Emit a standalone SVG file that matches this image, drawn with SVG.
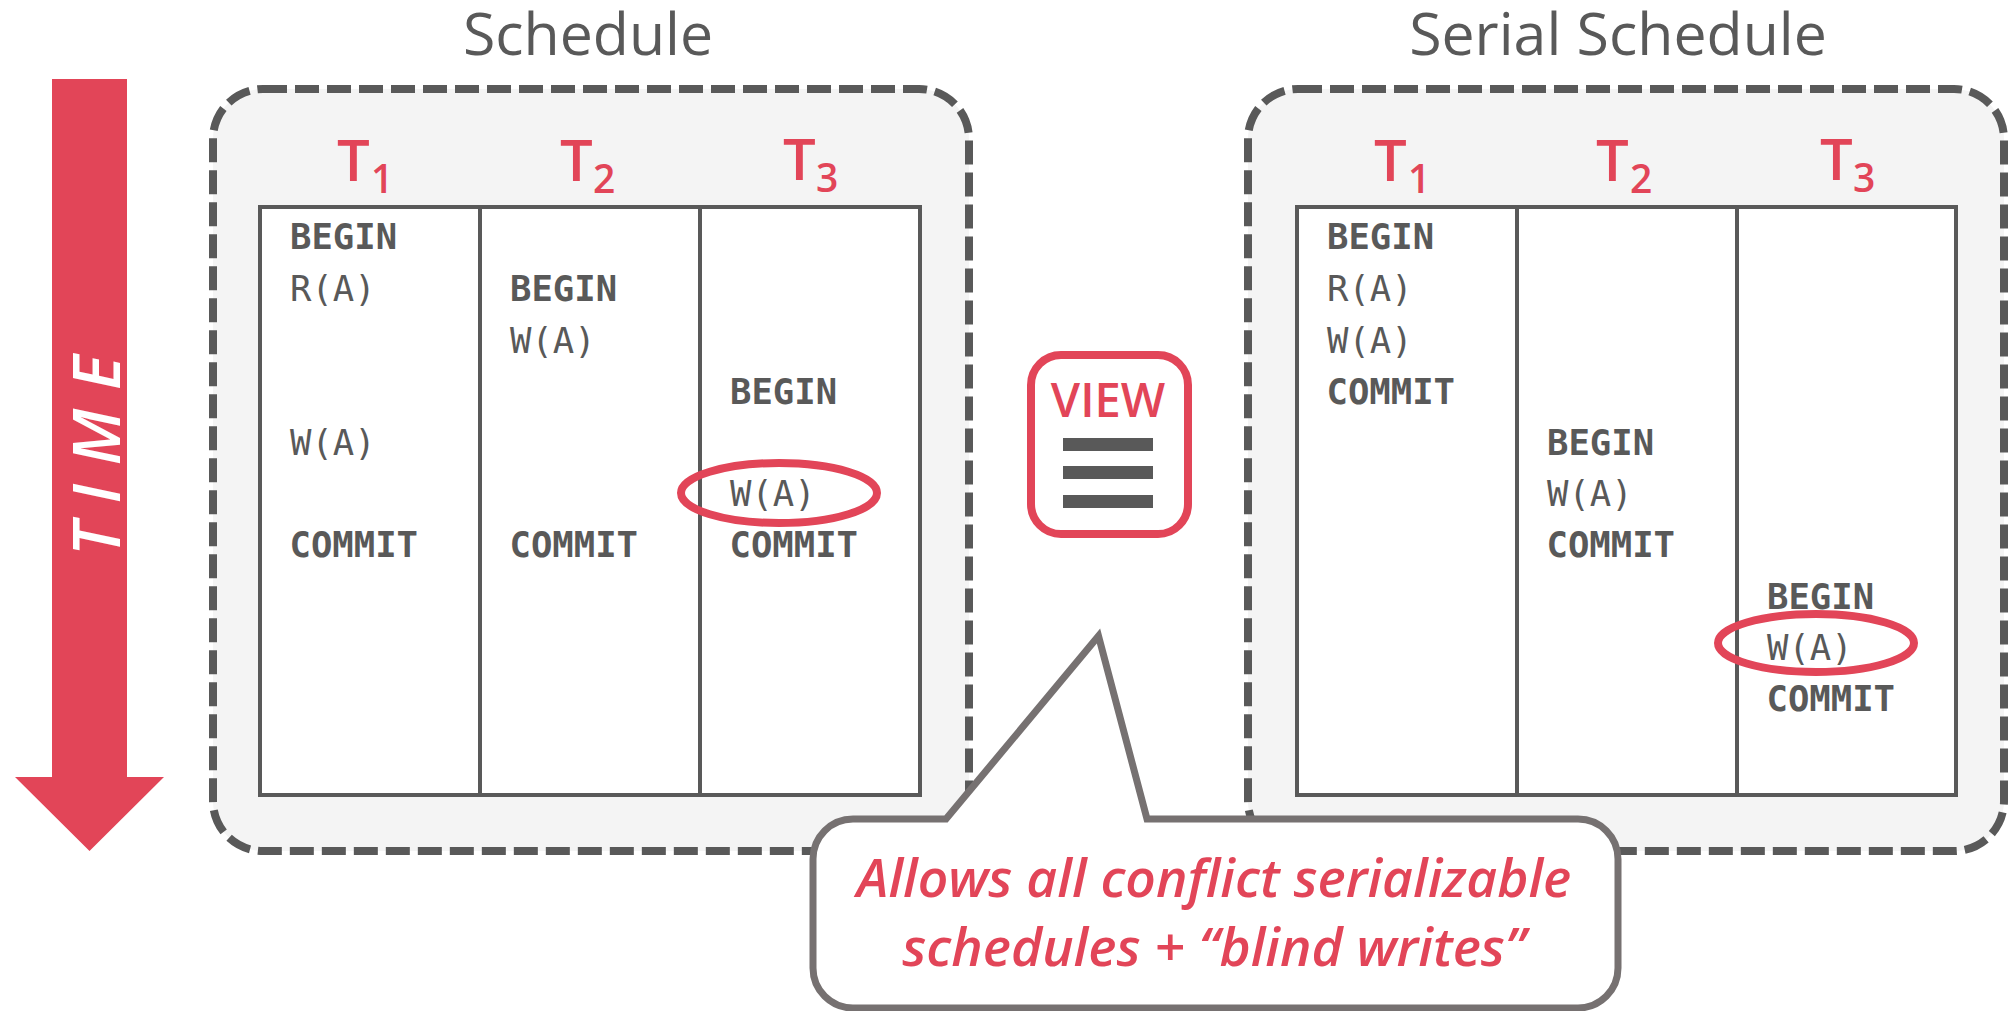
<svg xmlns="http://www.w3.org/2000/svg" width="2008" height="1011" viewBox="0 0 2008 1011">
<style>
.title{font:400 59px "Open Sans","Liberation Sans",sans-serif;fill:#595959;text-anchor:middle}
.t{font:600 58px "Open Sans","Liberation Sans",sans-serif;fill:#E24558}
.s{font:600 39px "Open Sans","Liberation Sans",sans-serif;fill:#E24558}
.m{font:400 35.6px "DejaVu Sans Mono",monospace;fill:#595959}
.b{font-weight:700}
.panel{fill:#F4F4F4;stroke:#595959;stroke-width:8;stroke-dasharray:24 8}
.grid{fill:#fff;stroke:#595959;stroke-width:4}
.line{stroke:#595959;stroke-width:4}
.oval{fill:none;stroke:#E24558;stroke-width:8}
.call{font:italic 600 53.300px "Open Sans","Liberation Sans",sans-serif;fill:#E24558;text-anchor:middle}
</style>
<g id="time-arrow">
<path d="M52 79H127V777H164L89.500 851L15 777H52Z" fill="#E24558"/>
<text transform="translate(120 556) rotate(-90)" font-family="Open Sans, Liberation Sans, sans-serif" font-style="italic" font-weight="600" font-size="66" fill="#fff" letter-spacing="18.500">TIME</text>
</g>
<g id="schedule">
<text class="title" x="588" y="55">Schedule</text>
<rect class="panel" x="213" y="89" width="756" height="762" rx="50"/>
<text x="337" y="181" class="t">T</text><text x="371" y="193" class="s">1</text>
<text x="560" y="181" class="t">T</text><text x="593" y="193" class="s">2</text>
<text x="783" y="180" class="t">T</text><text x="816" y="192" class="s">3</text>
<rect class="grid" x="260" y="207" width="660" height="588"/>
<line class="line" x1="480" y1="207" x2="480" y2="795"/>
<line class="line" x1="700" y1="207" x2="700" y2="795"/>
<text x="290" y="249" class="m b">BEGIN</text>
<text x="290" y="301" class="m">R(A)</text>
<text x="290" y="455" class="m">W(A)</text>
<text x="289.500" y="557" class="m b">COMMIT</text>
<text x="510" y="301" class="m b">BEGIN</text>
<text x="510" y="353" class="m">W(A)</text>
<text x="509.500" y="557" class="m b">COMMIT</text>
<text x="730" y="404" class="m b">BEGIN</text>
<text x="730" y="506" class="m">W(A)</text>
<text x="729.500" y="557" class="m b">COMMIT</text>
<ellipse class="oval" cx="779" cy="493" rx="98" ry="30"/>
</g>
<g id="serial-schedule">
<text class="title" x="1618" y="55">Serial Schedule</text>
<rect class="panel" x="1248" y="89" width="756" height="762" rx="50"/>
<text x="1374" y="181" class="t">T</text><text x="1408" y="193" class="s">1</text>
<text x="1596" y="181" class="t">T</text><text x="1630" y="193" class="s">2</text>
<text x="1820" y="180" class="t">T</text><text x="1853" y="192" class="s">3</text>
<rect class="grid" x="1297" y="207" width="659" height="588"/>
<line class="line" x1="1517" y1="207" x2="1517" y2="795"/>
<line class="line" x1="1737" y1="207" x2="1737" y2="795"/>
<text x="1327" y="249" class="m b">BEGIN</text>
<text x="1327" y="301" class="m">R(A)</text>
<text x="1327" y="353" class="m">W(A)</text>
<text x="1326.500" y="404" class="m b">COMMIT</text>
<text x="1547" y="455" class="m b">BEGIN</text>
<text x="1547" y="506" class="m">W(A)</text>
<text x="1546.500" y="557" class="m b">COMMIT</text>
<text x="1767" y="609" class="m b">BEGIN</text>
<text x="1767" y="660" class="m">W(A)</text>
<text x="1766.500" y="711" class="m b">COMMIT</text>
<ellipse class="oval" cx="1816" cy="643" rx="98" ry="29"/>
</g>
<g id="view-box">
<rect x="1031" y="355" width="157" height="179" rx="30" fill="#fff" stroke="#E24558" stroke-width="8"/>
<text x="1108" y="417" font-family="Open Sans, Liberation Sans, sans-serif" font-size="47" font-weight="600" fill="#E24558" text-anchor="middle">VIEW</text>
<rect x="1063" y="438" width="90" height="13" fill="#595959"/>
<rect x="1063" y="466" width="90" height="13" fill="#595959"/>
<rect x="1063" y="495" width="90" height="13" fill="#595959"/>
</g>
<g id="callout">
<path d="M853 819H946L1098.500 636L1147 819H1578A40 40 0 0 1 1618 859V968A40 40 0 0 1 1578 1008H853A40 40 0 0 1 813 968V859A40 40 0 0 1 853 819Z" fill="#fff" stroke="#767171" stroke-width="7"/>
<text class="call" x="1214" y="897">Allows all conflict serializable</text>
<text class="call" x="1214" y="966">schedules + “blind writes”</text>
</g>
</svg>
